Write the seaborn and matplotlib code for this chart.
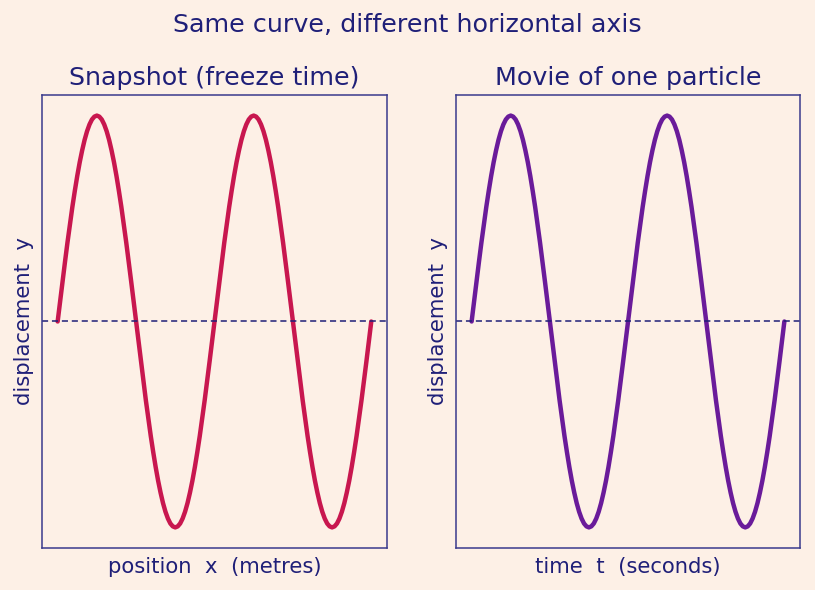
import seaborn as sns
import matplotlib.pyplot as plt
import pandas as pd

# samples: 16 per quarter-cycle, two full waves
quarter = [0.0, 0.098, 0.195, 0.290, 0.383, 0.471, 0.556, 0.634, 0.707,
           0.773, 0.831, 0.882, 0.924, 0.957, 0.981, 0.995, 1.0]
half = quarter + quarter[-2::-1]
wave = [0.0]
for k in range(4):
    sign = 1 if k % 2 == 0 else -1
    wave += [sign * v for v in half[1:]]

position_x = [i / 32 for i in range(len(wave))]
time_t = position_x
disp_snapshot = wave
disp_movie = wave

bg = '#fdf0e6'
navy = '#1f1f78'
spine = '#3a3a8c'

sns.set_theme(style='white')
plt.rcParams['font.family'] = ['DejaVu Sans']

fig = plt.figure(figsize=(8.15, 5.9), dpi=100, facecolor=bg)
ax1 = fig.add_axes([0.0515, 0.0712, 0.4233, 0.7678])
ax2 = fig.add_axes([0.5595, 0.0712, 0.4221, 0.7678])

df1 = pd.DataFrame({'x': position_x, 'y': disp_snapshot})
df2 = pd.DataFrame({'t': time_t, 'y': disp_movie})

sns.lineplot(data=df1, x='x', y='y', ax=ax1, color='#c8174f', linewidth=3.2)
sns.lineplot(data=df2, x='t', y='y', ax=ax2, color='#6a1b9a', linewidth=3.2)

for ax, title, xlabel in [(ax1, 'Snapshot (freeze time)', 'position  x  (metres)'),
                          (ax2, 'Movie of one particle', 'time  t  (seconds)')]:
    ax.set_facecolor(bg)
    ax.axhline(0, color=navy, linestyle='--', linewidth=1.1, dashes=(4, 2.5))
    ax.set_xticks([])
    ax.set_yticks([])
    ax.set_title(title, color=navy, fontsize=18.3, pad=7.5)
    ax.set_xlabel(xlabel, color=navy, fontsize=15.2, labelpad=6.5)
    ax.set_ylabel('displacement  y', color=navy, fontsize=15.2, labelpad=5.5)
    for s in ax.spines.values():
        s.set_color(spine)
        s.set_linewidth(1.1)

fig.suptitle('Same curve, different horizontal axis', color=navy, fontsize=18.3,
             y=0.957, va='center')
fig.savefig('out.png', dpi=100, facecolor=bg)
